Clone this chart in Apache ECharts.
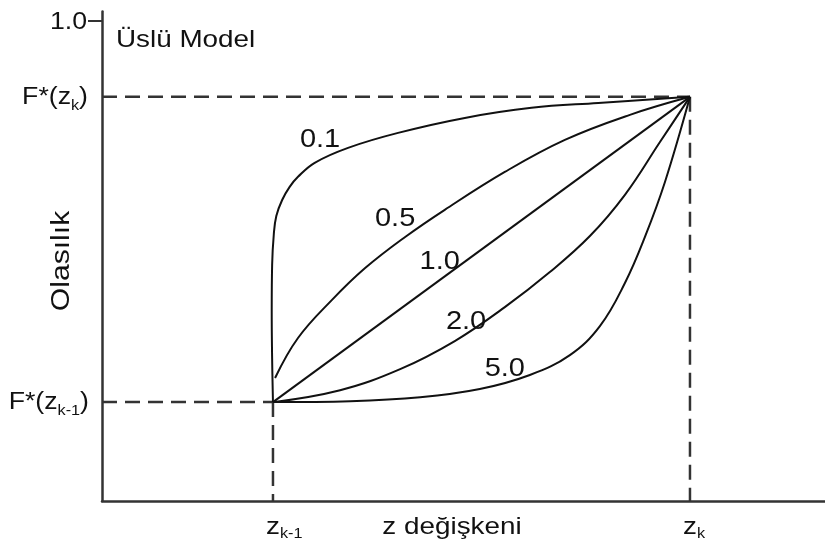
<!DOCTYPE html>
<html>
<head>
<meta charset="utf-8">
<script src="https://cdn.jsdelivr.net/npm/echarts@6/dist/echarts.min.js"></script>
<style>
  html, body { margin: 0; padding: 0; background: #ffffff; }
  #c { width: 825px; height: 548px; }
</style>
</head>
<body>
<div id="c"></div>
<script>
// Exponent shown beside each curve
const exponents = ['0.1', '0.5', '1.0', '2.0', '5.0'];

// Cumulative probability at the two class bounds
const F_PREV = 0.206;   // F*(z_{k-1})
const F_NEXT = 0.842;   // F*(z_k)

// Class bounds on the z axis (z_{k-1} = 0, z_k = 1)
const Z_PREV = 0;
const Z_NEXT = 1;

// Curves: [position inside the class (0..1), share of the class probability (0..1)]
const curve01 = [[0, 0], [-0.002, 0.14], [-0.003, 0.30], [-0.002, 0.45], [0.002, 0.55], [0.008, 0.61],
  [0.022, 0.662], [0.04, 0.705], [0.06, 0.738], [0.10, 0.784], [0.18, 0.833], [0.30, 0.882],
  [0.46, 0.931], [0.62, 0.964], [0.78, 0.98], [1, 1]];
const curve05 = [[0.005, 0.079], [0.06, 0.21], [0.141, 0.334], [0.221, 0.439], [0.317, 0.541],
  [0.412, 0.63], [0.556, 0.754], [0.70, 0.859], [0.856, 0.941], [1, 1]];
const curve10 = [[0, 0], [1, 1]];
const curve20 = [[0, 0], [0.161, 0.039], [0.305, 0.108], [0.436, 0.20], [0.556, 0.311], [0.664, 0.426],
  [0.76, 0.544], [0.844, 0.679], [0.928, 0.852], [1, 1]];
const curve50 = [[0, 0], [0.185, 0.003], [0.353, 0.016], [0.496, 0.043], [0.616, 0.089], [0.712, 0.154],
  [0.784, 0.249], [0.844, 0.39], [0.892, 0.541], [0.94, 0.721], [1, 1]];

// Tick labels
const yTickValues = [1.0];
const yTickLabels = ['1.0'];

// ---- layout and style ----
const X_MIN = -0.41;
const X_MAX = 1.3238;
const Y_MAX = 1.02;
const FONT = '"Liberation Sans", Arial, Helvetica, sans-serif';
const INK = '#111111';
const AXIS = '#333333';
const SX = 1.16;   // horizontal stretch of the lettering

// where each exponent label sits, in axis units
const curveLabelAt = [[0.113, 0.752], [0.293, 0.5875], [0.40, 0.498], [0.463, 0.373], [0.556, 0.275]];

const curves = [curve01, curve05, curve10, curve20, curve50];
const toProb = pts => pts.map(([t, u]) => [t, F_PREV + u * (F_NEXT - F_PREV)]);

const guides = [
  [[X_MIN, F_NEXT], [Z_NEXT, F_NEXT]],
  [[X_MIN, F_PREV], [Z_PREV, F_PREV]],
  [[Z_PREV, F_PREV], [Z_PREV, 0]],
  [[Z_NEXT, F_NEXT], [Z_NEXT, 0]]
];

const chart = echarts.init(document.getElementById('c'), null, { renderer: 'canvas' });

const series = [];
guides.forEach(g => series.push({
  type: 'line', data: g, showSymbol: false, silent: true,
  lineStyle: { color: AXIS, width: 2.5, type: [15, 8] }
}));
curves.forEach((c, i) => series.push({
  name: exponents[i], type: 'line', data: toProb(c), showSymbol: false, silent: true,
  smooth: 0.4,
  lineStyle: { color: INK, width: 2 }
}));

chart.setOption({
  animation: false,
  backgroundColor: '#ffffff',
  grid: { left: 102, right: 0, top: 501 - Y_MAX * 480, bottom: 47, containLabel: false },
  xAxis: {
    type: 'value', min: X_MIN, max: X_MAX,
    axisLine: { show: true, onZero: false, lineStyle: { color: AXIS, width: 2.5 } },
    axisTick: { show: false }, axisLabel: { show: false }, splitLine: { show: false }
  },
  yAxis: {
    type: 'value', min: 0, max: Y_MAX,
    axisLine: { show: true, onZero: false, lineStyle: { color: AXIS, width: 2.5 } },
    axisTick: { show: true, customValues: yTickValues, length: 14, lineStyle: { color: AXIS, width: 2 } },
    axisLabel: { show: false }, splitLine: { show: false }
  },
  series: series
});

// ---- lettering ----
const mctx = document.createElement('canvas').getContext('2d');
function textWidth(str, size) {
  mctx.font = size + 'px ' + FONT;
  return mctx.measureText(str).width;
}
function txt(str, x, y, size, align) {
  return {
    type: 'text', silent: true,
    style: {
      text: str, x: x, y: y, font: size + 'px ' + FONT, fill: INK,
      align: align, verticalAlign: 'middle', textAlign: align, textVerticalAlign: 'middle'
    }
  };
}
// a run of text pieces (main text and subscripts) laid out from a start offset
function run(parts, startX) {
  let x = startX;
  return parts.map(p => {
    const el = txt(p.t, x, p.dy || 0, p.size, 'left');
    x += textWidth(p.t, p.size);
    return el;
  });
}
function runWidth(parts) {
  return parts.reduce((s, p) => s + textWidth(p.t, p.size), 0);
}
function group(x, y, children, rotation) {
  return { type: 'group', x: x, y: y, scaleX: SX, scaleY: 1, rotation: rotation || 0, children: children, silent: true };
}
const px = v => chart.convertToPixel({ gridIndex: 0 }, v);

const graphics = [];

// y-axis labels, right-aligned against the axis
const axisX = px([X_MIN, 0])[0];
const yLabels = [
  { v: yTickValues[0], parts: [{ t: yTickLabels[0], size: 23, dy: 1.5 }], gap: 15 },
  { v: F_NEXT, parts: [{ t: 'F*(z', size: 23, dy: 1 }, { t: 'k', size: 14, dy: 9 }, { t: ')', size: 23, dy: 1 }], gap: 14 },
  { v: F_PREV, parts: [{ t: 'F*(z', size: 23, dy: 1 }, { t: 'k-1', size: 14, dy: 9 }, { t: ')', size: 23, dy: 1 }], gap: 13 }
];
yLabels.forEach(l => {
  const p = px([X_MIN, l.v]);
  graphics.push(group(axisX - l.gap, p[1], run(l.parts, -runWidth(l.parts))));
});

// x-axis labels, the main letter centred on the class bound
const xLabels = [
  { v: Z_PREV, sub: 'k-1' },
  { v: Z_NEXT, sub: 'k' }
];
xLabels.forEach(l => {
  const p = px([l.v, 0]);
  const wz = textWidth('z', 24);
  graphics.push(group(p[0], 527, run([{ t: 'z', size: 24 }, { t: l.sub, size: 14, dy: 7 }], -wz / 2)));
});

// exponent labels on the curves
exponents.forEach((e, i) => {
  const p = px(curveLabelAt[i]);
  graphics.push(group(p[0], p[1], [txt(e, 0, 0, 25, 'center')]));
});

// titles
graphics.push(group(116, 40, [txt('Üslü Model', 0, 0, 24, 'left')]));
graphics.push(group(452, 527, [txt('z değişkeni', 0, 0, 24, 'center')]));
graphics.push(group(62, 261, [txt('Olasılık', 0, 0, 26, 'center')], Math.PI / 2));

chart.setOption({ graphic: { elements: graphics } });
</script>
</body>
</html>
